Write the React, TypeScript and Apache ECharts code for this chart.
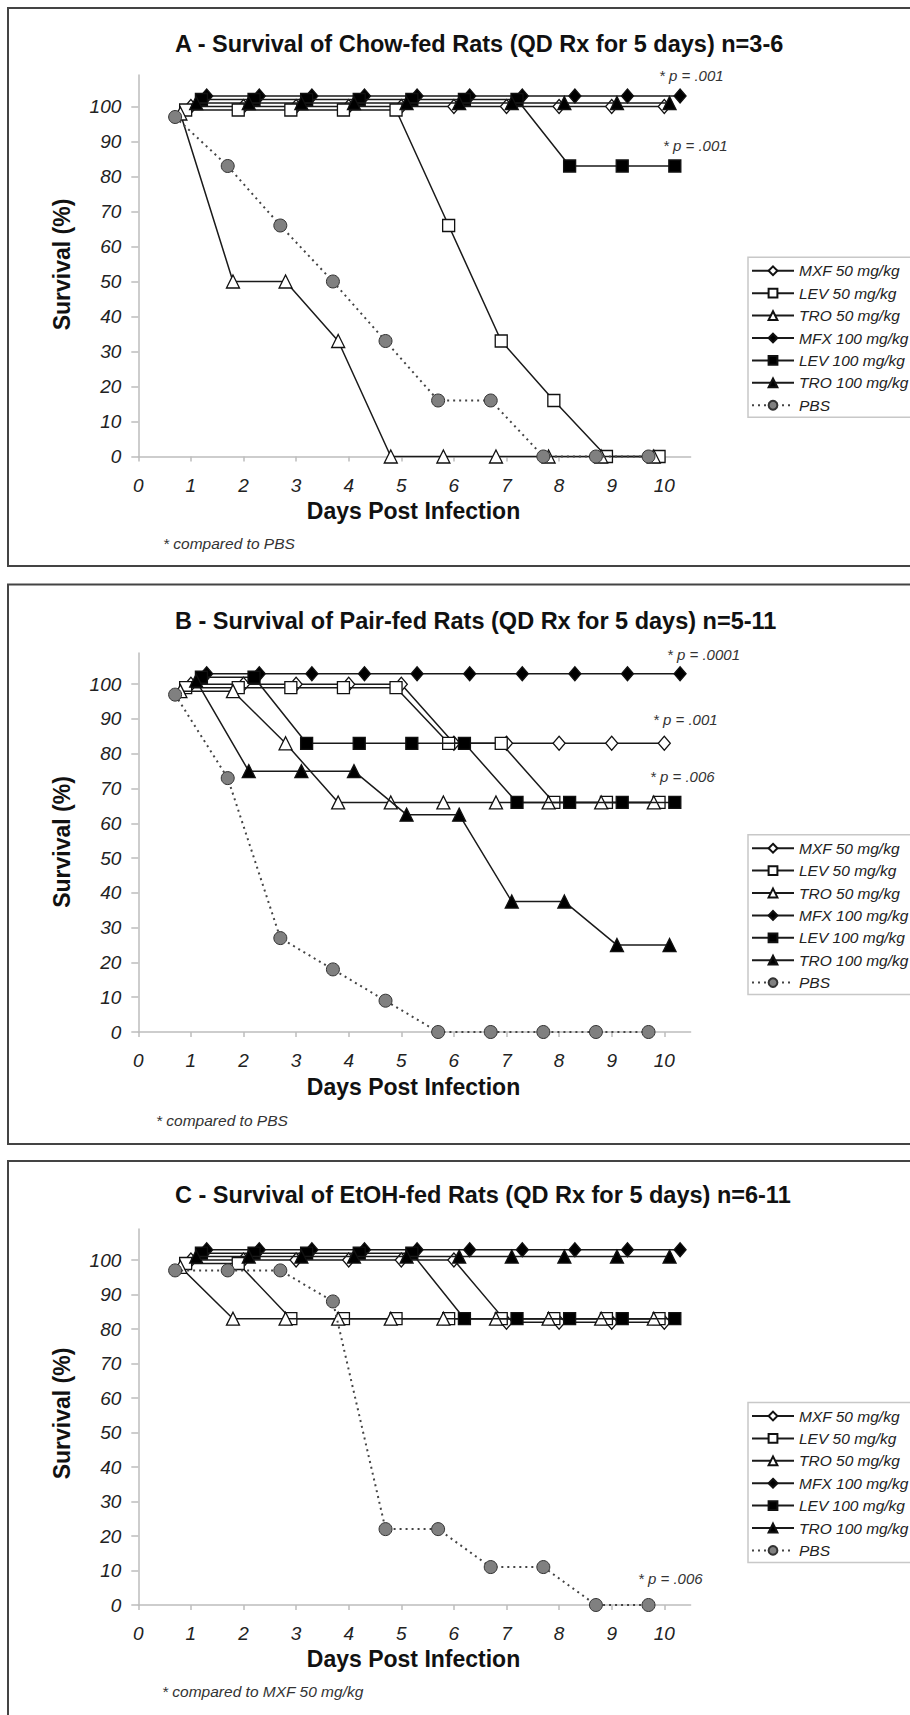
import React, { useEffect, useRef } from 'react';
import * as echarts from 'echarts';

const FONT = "'Liberation Sans', Arial, Helvetica, sans-serif";

const seriesNames = ['MXF 50 mg/kg', 'LEV 50 mg/kg', 'TRO 50 mg/kg', 'MFX 100 mg/kg', 'LEV 100 mg/kg', 'TRO 100 mg/kg', 'PBS'];

// x positions (days post infection, each group drawn slightly offset)
const xMXF50 = [1, 2, 3, 4, 5, 6, 7, 8, 9, 10];
const xLEV50 = [0.9, 1.9, 2.9, 3.9, 4.9, 5.9, 6.9, 7.9, 8.9, 9.9];
const xTRO50 = [0.8, 1.8, 2.8, 3.8, 4.8, 5.8, 6.8, 7.8, 8.8, 9.8];
const xMFX100 = [1.3, 2.3, 3.3, 4.3, 5.3, 6.3, 7.3, 8.3, 9.3, 10.3];
const xLEV100 = [1.2, 2.2, 3.2, 4.2, 5.2, 6.2, 7.2, 8.2, 9.2, 10.2];
const xTRO100 = [1.1, 2.1, 3.1, 4.1, 5.1, 6.1, 7.1, 8.1, 9.1, 10.1];
const xPBS = [0.7, 1.7, 2.7, 3.7, 4.7, 5.7, 6.7, 7.7, 8.7, 9.7];

// Panel A - Chow-fed
const aMXF50 = [100, 100, 100, 100, 100, 100, 100, 100, 100, 100];
const aLEV50 = [99, 99, 99, 99, 99, 66, 33, 16, 0, 0];
const aTRO50 = [98, 50, 50, 33, 0, 0, 0, 0, 0, 0];
const aMFX100 = [103, 103, 103, 103, 103, 103, 103, 103, 103, 103];
const aLEV100 = [102, 102, 102, 102, 102, 102, 102, 83, 83, 83];
const aTRO100 = [101, 101, 101, 101, 101, 101, 101, 101, 101, 101];
const aPBS = [97, 83, 66, 50, 33, 16, 16, 0, 0, 0];

// Panel B - Pair-fed
const bMXF50 = [100, 100, 100, 100, 100, 83, 83, 83, 83, 83];
const bLEV50 = [99, 99, 99, 99, 99, 83, 83, 66, 66, 66];
const bTRO50 = [98, 98, 83, 66, 66, 66, 66, 66, 66, 66];
const bMFX100 = [103, 103, 103, 103, 103, 103, 103, 103, 103, 103];
const bLEV100 = [102, 102, 83, 83, 83, 83, 66, 66, 66, 66];
const bTRO100 = [101, 75, 75, 75, 62.5, 62.5, 37.5, 37.5, 25, 25];
const bPBS = [97, 73, 27, 18, 9, 0, 0, 0, 0, 0];

// Panel C - EtOH-fed
const cMXF50 = [100, 100, 100, 100, 100, 100, 82, 82, 82, 82];
const cLEV50 = [99, 99, 83, 83, 83, 83, 83, 83, 83, 83];
const cTRO50 = [98, 83, 83, 83, 83, 83, 83, 83, 83, 83];
const cMFX100 = [103, 103, 103, 103, 103, 103, 103, 103, 103, 103];
const cLEV100 = [102, 102, 102, 102, 102, 83, 83, 83, 83, 83];
const cTRO100 = [101, 101, 101, 101, 101, 101, 101, 101, 101, 101];
const cPBS = [97, 97, 97, 88, 22, 22, 11, 11, 0, 0];

const xTicks = [0, 1, 2, 3, 4, 5, 6, 7, 8, 9, 10];
const yTicks = [0, 10, 20, 30, 40, 50, 60, 70, 80, 90, 100];

const panelTitles = [
  'A - Survival of Chow-fed Rats (QD Rx for 5 days) n=3-6',
  'B - Survival of Pair-fed Rats (QD Rx for 5 days) n=5-11',
  'C - Survival of EtOH-fed Rats (QD Rx for 5 days) n=6-11',
];
const footnotes = ['* compared to PBS', '* compared to PBS', '* compared to MXF 50 mg/kg'];
const annotations = [
  [{ t: '* p = .001', x: 659, y: 75 }, { t: '* p = .001', x: 663, y: 145 }],
  [{ t: '* p = .0001', x: 667, y: 654 }, { t: '* p = .001', x: 653, y: 719 }, { t: '* p = .006', x: 650, y: 776.5 }],
  [{ t: '* p = .006', x: 638, y: 1578 }],
];

const xGroups = [xMXF50, xLEV50, xTRO50, xMFX100, xLEV100, xTRO100, xPBS];
const panelData = [
  [aMXF50, aLEV50, aTRO50, aMFX100, aLEV100, aTRO100, aPBS],
  [bMXF50, bLEV50, bTRO50, bMFX100, bLEV100, bTRO100, bPBS],
  [cMXF50, cLEV50, cTRO50, cMFX100, cLEV100, cTRO100, cPBS],
];

// layout
const grids = [
  { left: 138.3, top: 75, width: 552.3, height: 381.5 },
  { left: 138.3, top: 652.9, width: 552.3, height: 379.1 },
  { left: 138.3, top: 1229, width: 552.3, height: 376 },
];
const panelRects = [
  { y: 8, h: 558 },
  { y: 584.5, h: 559.5 },
  { y: 1161, h: 570 },
];
const titlePos = [{ x: 175, y: 44 }, { x: 175, y: 621 }, { x: 175, y: 1195 }];
const yTitlePos = [{ x: 61.5, y: 264.5 }, { x: 61.7, y: 842 }, { x: 61.5, y: 1413.5 }];
const xTitlePos = [{ x: 413.5, y: 510.5 }, { x: 413.5, y: 1087 }, { x: 413.5, y: 1659 }];
const footPos = [{ x: 163, y: 543 }, { x: 156, y: 1120 }, { x: 162, y: 1691.5 }];
const legendTops = [257.3, 834.7, 1402.5];

const markerStyles = [
  { symbol: 'diamond', size: [12, 14], fill: '#ffffff' },
  { symbol: 'rect', size: 12, fill: '#ffffff' },
  { symbol: 'triangle', size: 13, fill: '#ffffff' },
  { symbol: 'diamond', size: [12, 14], fill: '#000000' },
  { symbol: 'rect', size: 12, fill: '#000000' },
  { symbol: 'triangle', size: 13, fill: '#000000' },
  { symbol: 'circle', size: 13, fill: '#808080' },
];

export default function App() {
  const ref = useRef<HTMLDivElement>(null);

  useEffect(() => {
    if (!ref.current) return;
    const chart = echarts.init(ref.current, null, { renderer: 'svg' });

    const axisGray = '#bdbdbd';

    const xAxis = grids.map((_, p) => ({
      type: 'value',
      gridIndex: p,
      min: 0,
      max: 10.5,
      interval: 1,
      axisLine: { show: true, onZero: false, lineStyle: { color: axisGray, width: 1.5 } },
      axisTick: { show: true, inside: false, length: 5, customValues: xTicks, lineStyle: { color: axisGray, width: 1.5 } },
      axisLabel: {
        customValues: xTicks,
        margin: 19,
        fontSize: 19,
        fontStyle: 'italic',
        fontFamily: FONT,
        color: '#222',
        formatter: (v: number) => (Number.isInteger(v) && v <= 10 ? String(v) : ''),
      },
      splitLine: { show: false },
    }));

    const yAxis = grids.map((_, p) => ({
      type: 'value',
      gridIndex: p,
      min: 0,
      max: 109,
      interval: 10,
      axisLine: { show: true, lineStyle: { color: axisGray, width: 1.5 } },
      axisTick: { show: true, inside: false, length: 7, customValues: yTicks, lineStyle: { color: axisGray, width: 1.5 } },
      axisLabel: {
        customValues: yTicks,
        margin: 17,
        fontSize: 19,
        fontStyle: 'italic',
        fontFamily: FONT,
        color: '#222',
        formatter: (v: number) => (v % 10 === 0 && v <= 100 ? String(v) : ''),
      },
      splitLine: { show: false },
    }));

    const series: any[] = [];
    panelData.forEach((ys, p) => {
      ys.forEach((vals, s) => {
        const m = markerStyles[s];
        const isPBS = s === 6;
        series.push({
          type: 'line',
          name: seriesNames[s],
          xAxisIndex: p,
          yAxisIndex: p,
          data: vals.map((v, i) => [xGroups[s][i], v]),
          symbol: m.symbol,
          symbolSize: m.size,
          showSymbol: true,
          showAllSymbol: true,
          clip: false,
          z: 2 + s * 0.01,
          lineStyle: isPBS
            ? { color: '#444', width: 2, type: [2, 4] }
            : { color: '#1a1a1a', width: 1.5, type: 'solid' },
          itemStyle: isPBS
            ? { color: m.fill, borderColor: '#333', borderWidth: 1 }
            : { color: m.fill, borderColor: '#111', borderWidth: 1.3 },
          emphasis: { disabled: true },
        });
      });
    });

    const legend = legendTops.map((top) => ({
      orient: 'vertical',
      left: 748,
      top,
      data: seriesNames,
      itemWidth: 42,
      itemHeight: 11,
      itemGap: 6.4,
      padding: [5.5, 14, 4, 3],
      backgroundColor: '#ffffff',
      borderColor: '#c8c8c8',
      borderWidth: 1.5,
      selectedMode: false,
      textStyle: { fontFamily: FONT, fontStyle: 'italic', fontSize: 15.5, color: '#222', lineHeight: 16 },
    }));

    const graphic: any[] = [];
    panelRects.forEach((r) => {
      graphic.push({
        type: 'rect',
        shape: { x: 8, y: r.y, width: 930, height: r.h },
        style: { fill: 'none', stroke: '#444', lineWidth: 2 },
        z: 0,
        silent: true,
      });
    });
    panelTitles.forEach((t, p) => {
      graphic.push({
        type: 'text',
        x: titlePos[p].x,
        y: titlePos[p].y,
        style: { text: t, font: `bold 23.5px ${FONT}`, fill: '#111', align: 'left', verticalAlign: 'middle' },
      });
      graphic.push({
        type: 'text',
        x: yTitlePos[p].x,
        y: yTitlePos[p].y,
        rotation: Math.PI / 2,
        style: { text: 'Survival (%)', font: `bold 23px ${FONT}`, fill: '#111', align: 'center', verticalAlign: 'middle' },
      });
      graphic.push({
        type: 'text',
        x: xTitlePos[p].x,
        y: xTitlePos[p].y,
        style: { text: 'Days Post Infection', font: `bold 23px ${FONT}`, fill: '#111', align: 'center', verticalAlign: 'middle' },
      });
      graphic.push({
        type: 'text',
        x: footPos[p].x,
        y: footPos[p].y,
        style: { text: footnotes[p], font: `italic 15.5px ${FONT}`, fill: '#333', align: 'left', verticalAlign: 'middle' },
      });
      annotations[p].forEach((a) => {
        graphic.push({
          type: 'text',
          x: a.x,
          y: a.y,
          style: { text: a.t, font: `italic 15px ${FONT}`, fill: '#333', align: 'left', verticalAlign: 'middle' },
        });
      });
    });

    chart.setOption({
      animation: false,
      backgroundColor: '#ffffff',
      grid: grids.map((g) => ({ ...g, containLabel: false })),
      xAxis,
      yAxis,
      legend,
      series,
      graphic,
    });

    return () => chart.dispose();
  }, []);

  return (
    <div
      ref={ref}
      style={{ position: 'absolute', left: 0, top: 0, width: 910, height: 1715, overflow: 'hidden', background: '#fff' }}
    />
  );
}
